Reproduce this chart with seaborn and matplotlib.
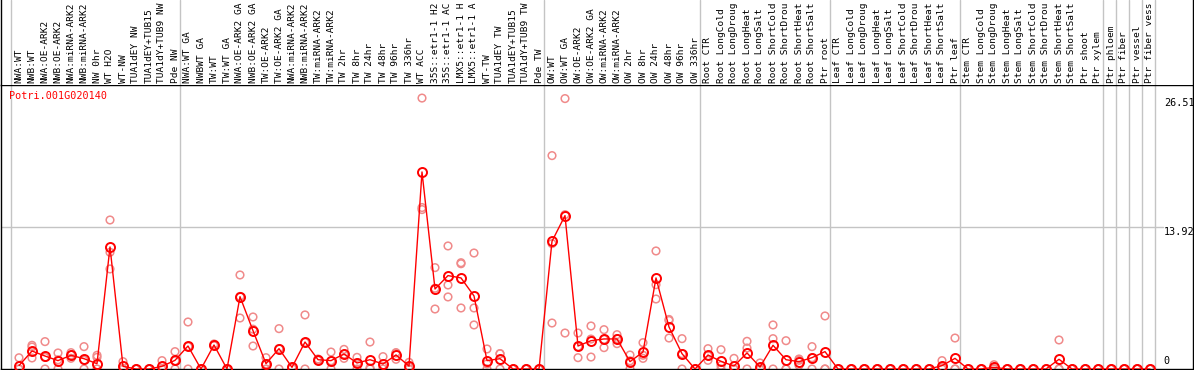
import matplotlib
matplotlib.use("Agg")
import matplotlib.pyplot as plt
import matplotlib.transforms as mtransforms
import numpy as np
import pandas as pd
import seaborn as sns

gene = "Potri.001G020140"

labels = [
    "NWA:WT", "NWB:WT", "NWA:OE-ARK2", "NWB:OE-ARK2", "NWA:miRNA-ARK2", "NWB:miRNA-ARK2",
    "NW 0hr", "WT H2O", "WT-NW", "TUA1dEY NW", "TUA1dEY+TUB15", "TUA1dY+TUB9 NW", "Pde NW",
    "NWA:WT GA", "NWBWT GA", "TW:WT", "TW:WT GA", "NWA:OE-ARK2 GA", "NWB:OE-ARK2 GA",
    "TW:OE-ARK2", "TW:OE-ARK2 GA", "NWA:miRNA-ARK2", "NWB:miRNA-ARK2", "TW:miRNA-ARK2",
    "TW:miRNA-ARK2", "TW 2hr", "TW 8hr", "TW 24hr", "TW 48hr", "TW 96hr", "TW 336hr",
    "WT ACC", "35S::etr1-1 H2", "35S::etr1-1 AC", "LMX5::etr1-1 H", "LMX5::etr1-1 A",
    "WT-TW", "TUA1dEY TW", "TUA1dEY+TUB15", "TUA1dY+TUB9 TW", "Pde TW",
    "OW:WT", "OW:WT GA", "OW:OE-ARK2", "OW:OE-ARK2 GA", "OW:miRNA-ARK2", "OW:miRNA-ARK2",
    "OW 2hr", "OW 8hr", "OW 24hr", "OW 48hr", "OW 96hr", "OW 336hr",
    "Root CTR", "Root LongCold", "Root LongDroug", "Root LongHeat", "Root LongSalt",
    "Root ShortCold", "Root ShortDrou", "Root ShortHeat", "Root ShortSalt", "Ptr root",
    "Leaf CTR", "Leaf LongCold", "Leaf LongDroug", "Leaf LongHeat", "Leaf LongSalt",
    "Leaf ShortCold", "Leaf ShortDrou", "Leaf ShortHeat", "Leaf ShortSalt", "Ptr leaf",
    "Stem CTR", "Stem LongCold", "Stem LongDroug", "Stem LongHeat", "Stem LongSalt",
    "Stem ShortCold", "Stem ShortDrou", "Stem ShortHeat", "Stem ShortSalt", "Ptr shoot",
    "Ptr xylem", "Ptr phloem", "Ptr fiber", "Ptr vessel", "Ptr fiber vess",
]

means = [
    0.33, 1.76, 1.27, 0.82, 1.34, 1.01, 0.52, 11.94, 0.26, 0, 0, 0.26, 0.85,
    2.25, 0, 2.35, 0, 7.08, 3.75, 0.52, 1.99, 0.16, 2.64, 0.91, 0.82, 1.47, 0.59,
    0.91, 0.49, 1.37, 0.29, 19.28, 7.83, 9.14, 8.91, 7.15, 0.82, 1.01, 0, 0, 0,
    12.50, 15.01, 2.25, 2.77, 2.94, 2.94, 0.72, 1.66, 8.91, 4.11, 1.50, 0,
    1.37, 0.75, 0.29, 1.57, 0.20, 2.32, 0.91, 0.72, 1.11, 1.70,
    0, 0, 0, 0, 0, 0, 0, 0, 0.33, 1.04,
    0, 0, 0.16, 0, 0, 0, 0, 0.95, 0, 0, 0,
    0, 0, 0, 0,
]

rep_a = [
    1.1, 2.32, 2.68, 1.57, 1.6, 2.19, 1.34, 14.58, 0.72, 0, 0, 0.82, 1.70,
    4.6, 0, 2.45, 0, 9.2, 5.09, 1.11, 3.95, 0.2, 5.29, 0.98, 1.66, 1.92, 1.14,
    2.64, 1.21, 1.6, 0.65, 26.51, 9.92, 12.04, 10.4, 11.35, 1.96, 1.5, 0, 0, 0,
    20.88, 26.46, 3.52, 4.21, 3.85, 3.36, 1.37, 2.58, 11.55, 4.85, 2.97, 0,
    1.99, 1.89, 1.04, 2.71, 0.59, 4.31, 2.77, 0.98, 2.19, 5.19,
    0, 0, 0, 0, 0, 0, 0, 0, 0.82, 3.03,
    0, 0, 0.42, 0, 0, 0, 0, 2.84, 0, 0, 0,
    0, 0, 0, 0,
]

rep_b = [
    0, 2.15, 1.13, 0.9, 1.05, 0.85, 1.14, 11.42, 0, 0, 0, 0, 0.8,
    2.2, 0, 2.3, 0, 7.1, 3.9, 0.5, 2.0, 0.15, 2.6, 0.9, 0.8, 1.04, 0.6,
    0.1, 0.25, 1.57, 0.2, 15.8, 7.9, 8.22, 10.3, 5.97, 0.5, 1.5, 0, 0, 0,
    12.27, 15.1, 2.2, 2.93, 2.9, 2.98, 0.8, 1.35, 8.25, 4.75, 1.5, 0,
    1.3, 0.35, 0, 2.05, 0, 2.97, 0, 0.85, 1.1, 0,
    0, 0, 0, 0, 0, 0, 0, 0, 0.15, 0,
    0, 0, 0.05, 0, 0, 0, 0, 0, 0, 0, 0,
    0, 0, 0, 0,
]

rep_c = [
    0, 1.08, 0, 0, 1.37, 0, 0, 9.79, 0, 0, 0, 0, 0,
    0, 0, 2.3, 0, 4.99, 2.25, 0, 0, 0.1, 0, 0.85, 0, 1.45, 0,
    0, 0, 0.95, 0, 15.6, 5.87, 7.05, 5.97, 4.31, 0, 0, 0, 0, 0,
    4.5, 3.52, 1.11, 1.17, 2.09, 2.48, 0, 1.04, 6.85, 3.03, 0, 0,
    0.85, 0, 0, 0, 0, 0, 0, 0.35, 0, 0,
    0, 0, 0, 0, 0, 0, 0, 0, 0, 0,
    0, 0, 0, 0, 0, 0, 0, 0, 0, 0, 0,
    0, 0, 0, 0,
]

# last column of each sample group
group_ends = [12, 40, 52, 62, 72, 83, 84, 85, 86, 87]
y_marks = [0, 13.92, 26.51]

pos = np.arange(len(labels))
reps = pd.DataFrame({
    "pos": np.tile(pos, 3),
    "value": rep_a + rep_b + rep_c,
})

sns.set_style("white")
plt.rcParams["font.family"] = ["DejaVu Sans Mono", "DejaVu Sans"]

W, H = 1194, 370
fig = plt.figure(figsize=(W / 100, H / 100), dpi=100)
x0, x1 = 1, 1193
y_top = 85
ax = fig.add_axes([x0 / W, 1 / H, (x1 - x0) / W, (H - 1 - y_top) / H])
axl = fig.add_axes([x0 / W, (H - y_top) / H, (x1 - x0) / W, y_top / H], sharex=ax)

ax.set_xlim((x0 - 19) / 13, (x1 - 19) / 13)
ax.set_ylim(0, (H - 1 - y_top) / 10.22)
axl.set_ylim(0, 1)

grid = "#c4c4c4"
seps = [-0.64] + [g + 0.385 for g in group_ends]
for s in seps:
    ax.axvline(s, color=grid, lw=1, zorder=0)
    axl.axvline(s, color=grid, lw=1, zorder=0)
ax.axhline(13.92, xmax=0.975, color=grid, lw=1, zorder=0)

sns.scatterplot(data=reps, x="pos", y="value", ax=ax, marker="o", s=30,
                facecolors="none", edgecolors="#f08a8a", linewidth=1.1,
                zorder=2, legend=False)
sns.lineplot(x=pos, y=means, ax=ax, color="red", lw=1, marker="o", markersize=6.5,
             markerfacecolor="none", markeredgecolor="red", markeredgewidth=1.4,
             zorder=3)

ax.set_xlabel("")
ax.set_ylabel("")
ax.set_xticks([])
ax.set_yticks([])
for side in ["left", "right", "top", "bottom"]:
    ax.spines[side].set_visible(True)
    ax.spines[side].set_color("black")
    ax.spines[side].set_linewidth(1)

axl.set_xticks([])
axl.set_yticks([])
axl.spines["top"].set_visible(False)
axl.spines["bottom"].set_visible(False)
for side in ["left", "right"]:
    axl.spines[side].set_color("black")
    axl.spines[side].set_linewidth(1)

tr = mtransforms.blended_transform_factory(axl.transData, axl.transAxes)
for p, lab in zip(pos, labels):
    axl.text(p, 2 / y_top, lab, transform=tr, rotation=90, ha="center", va="bottom",
             fontsize=6.8, color="black")

ytr = mtransforms.blended_transform_factory(ax.transAxes, ax.transData)
for v in y_marks:
    txt = "0" if v == 0 else f"{v:.2f}"
    ax.text(0.9755, v + (0.3 if v == 0 else 0), txt, transform=ytr, ha="left",
            va="bottom" if v == 0 else "top", fontsize=7.3, color="black")

ax.text(8.5 / (x1 - x0), 1 - 6 / (H - 1 - y_top), gene, transform=ax.transAxes,
        ha="left", va="top", fontsize=7.3, color="red")

fig.savefig("out.png", dpi=100)
